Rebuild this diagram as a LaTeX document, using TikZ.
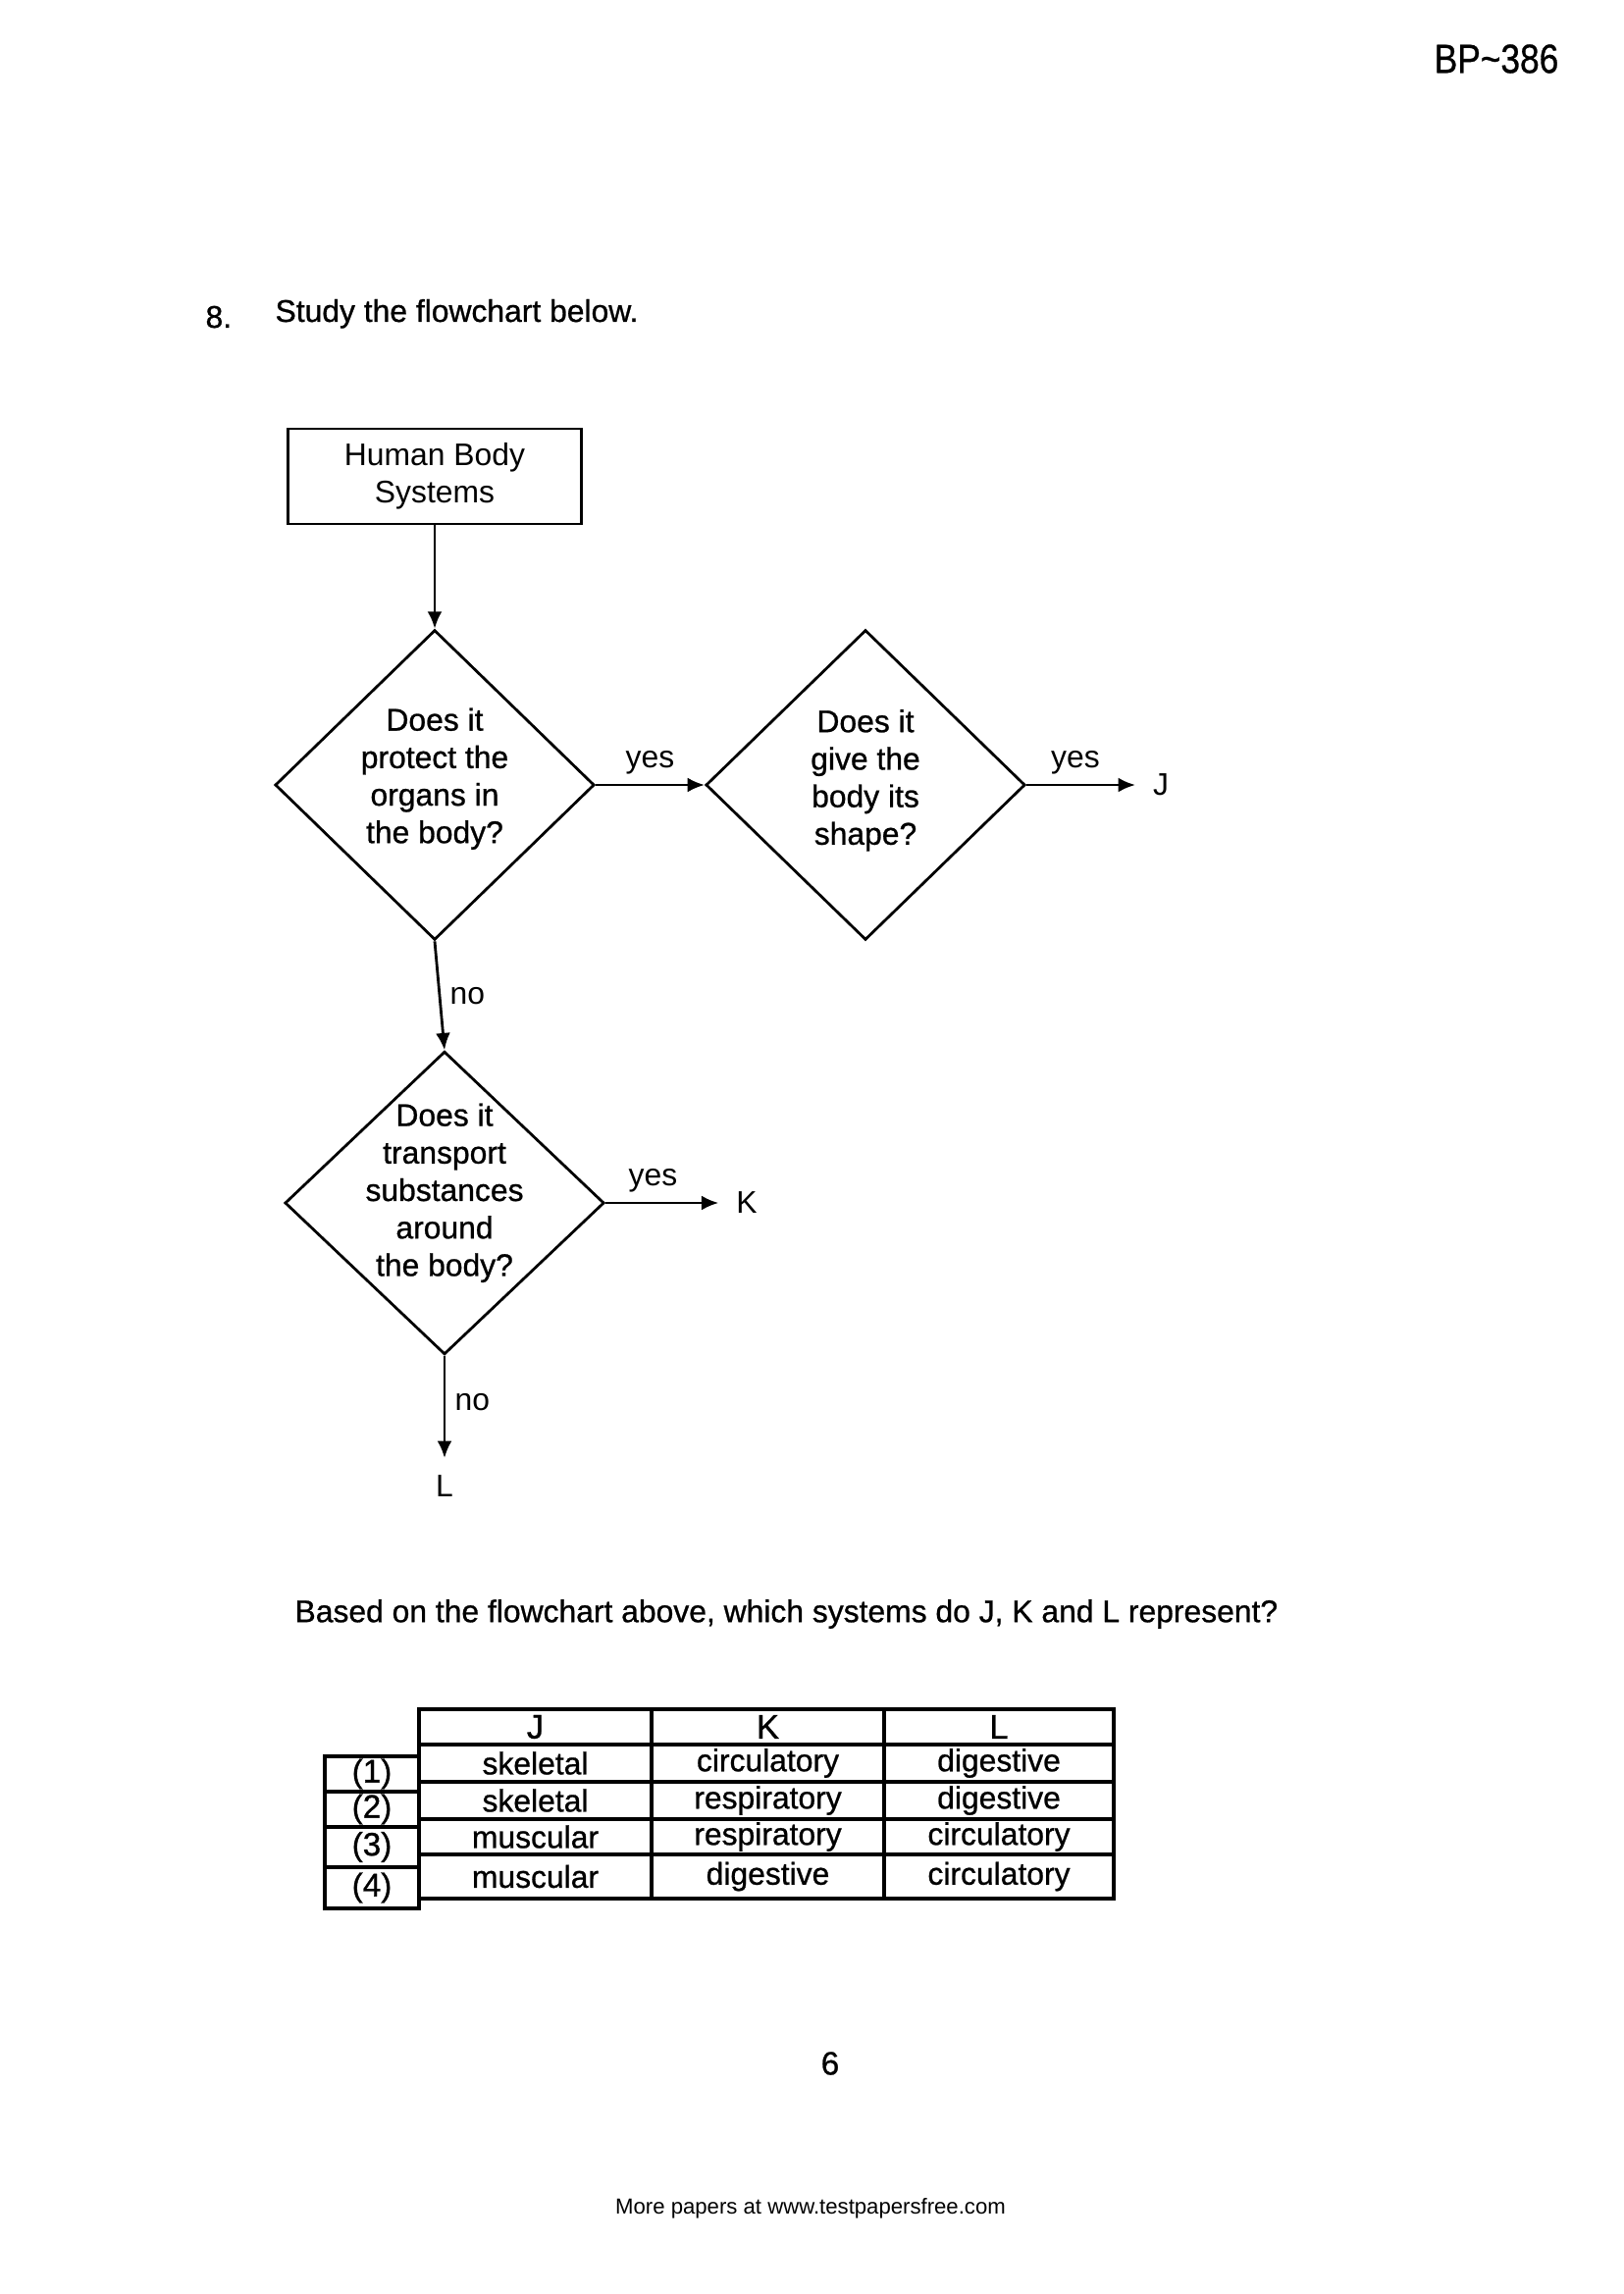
\documentclass[tikz,border=0pt]{standalone}
\usepackage{fontspec}
\setmainfont{Liberation Sans}
\newfontfamily\heavyfont{Liberation Sans}[FakeBold=0.8]
\usetikzlibrary{arrows.meta,shapes.geometric,positioning}

\newcommand{\pxu}{0.12696mm}

\tikzset{
  base/.style={font=\fontsize{11.5}{13.8}\selectfont},
  heavy/.style={font=\fontsize{11.5}{13.8}\heavyfont},
  startbox/.style={base, draw, line width=1pt, rectangle, align=center,
    minimum width=299*\pxu, minimum height=97*\pxu, inner sep=0pt},
  decision/.style={draw, line width=1pt, diamond, inner sep=0pt,
    minimum width=41.3mm, minimum height=40.1mm},
  qtext/.style={heavy, align=center},
  flow/.style={line width=1pt, -{Latex[length=2.2mm,width=1.9mm]}},
  endlabel/.style={base, inner sep=0pt, outer sep=2.3mm},
  cell/.style={heavy, draw, line width=1.3pt, inner sep=0pt}
}

\begin{document}
\begin{tikzpicture}[x=\pxu, y=-\pxu]
  \path[use as bounding box, fill=white] (0,0) rectangle (1654,2338);

  % page head
  \node[font=\fontsize{15}{18}\heavyfont] (code) at (1525,60)
    {\scalebox{0.85}[1]{BP\textasciitilde386}};
  \node[heavy, anchor=base west, inner sep=0pt] (qnum) at (209,334) {8.};
  \node[heavy, anchor=base west, inner sep=0pt] (intro) at (280,328) {Study the flowchart below.};

  % flowchart
  \node[startbox] (body) at (443,485.5) {Human Body\\Systems};
  \node[decision, label={[qtext, yshift=0.8mm]center:{Does it\\protect the\\organs in\\the body?}}]
    (protect) at (443,800) {};
  \node[decision, label={[qtext, yshift=0.6mm]center:{Does it\\give the\\body its\\shape?}}]
    (shape) at (882,800) {};
  \node[decision, minimum height=39.2mm,
    label={[qtext, yshift=1.3mm]center:{Does it\\transport\\substances\\around\\the body?}}]
    (transport) at (453,1226) {};

  \node[endlabel] (J) at (1183,800) {J};
  \node[endlabel] (K) at (761,1226) {K};
  \node[endlabel] (L) at (453,1515) {L};

  \draw[flow] (body.south) -- (protect.north);
  \draw[flow] (protect.east) -- (shape.west) node[base, above, midway] {yes};
  \draw[flow] (shape.east) -- (J.west) node[base, above, pos=0.45] {yes};
  \draw[flow] (protect.south) -- (transport.north) node[base, right, midway] {no};
  \draw[flow] (transport.east) -- (K.west) node[base, above, pos=0.42] {yes};
  \draw[flow] (transport.south) -- (L.north) node[base, right, pos=0.45] {no};

  % question and answer table
  \node[heavy, anchor=west, inner sep=0pt] (ask) at (300,1645)
    {Based on the flowchart above, which systems do J, K and L represent?};

  \foreach \x/\w/\t in {545.5/237/J, 782.5/237/K, 1018/234/L}
    \node[cell, font=\fontsize{12.5}{14}\heavyfont, minimum width=\w*\pxu, minimum height=36*\pxu]
      (head\t) at (\x,1760) {\t};

  \foreach \y/\h/\j/\k/\l [count=\i] in {1797/38/skeletal/circulatory/digestive,
      1835/38/skeletal/respiratory/digestive,
      1872/36/muscular/respiratory/circulatory,
      1912.5/45/muscular/digestive/circulatory}
  {
    \node[cell, minimum width=237*\pxu, minimum height=\h*\pxu] (j\i) at (545.5,\y) {\j};
    \node[cell, minimum width=237*\pxu, minimum height=\h*\pxu] (k\i) at (782.5,\y) {\k};
    \node[cell, minimum width=234*\pxu, minimum height=\h*\pxu] (l\i) at (1018,\y) {\l};
  }

  \foreach \y/\h [count=\i] in {1808/36, 1844/36, 1882.5/41, 1924/42}
    \node[cell, font=\fontsize{12}{14}\heavyfont, minimum width=96*\pxu, minimum height=\h*\pxu]
      (opt\i) at (379,\y) {(\i)};

  % page foot
  \node[font=\fontsize{12}{14}\heavyfont] (page) at (846,2103) {6};
  \node[font=\fontsize{8}{9.6}\selectfont] (foot) at (826,2251)
    {More papers at www.testpapersfree.com};
\end{tikzpicture}
\end{document}
